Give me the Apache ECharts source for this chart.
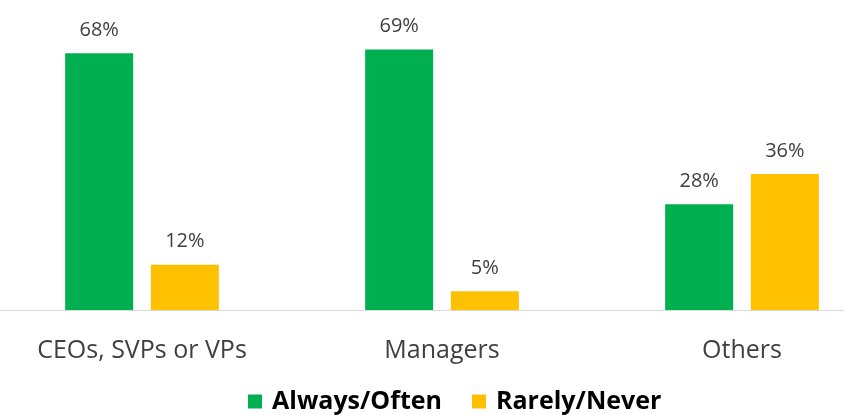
<!DOCTYPE html>
<html>
<head>
<meta charset="utf-8">
<script src="https://cdn.jsdelivr.net/npm/echarts@6/dist/echarts.min.js"></script>
<style>
  html, body { margin: 0; padding: 0; background: #fff; }
  #chart { width: 844px; height: 415px; }
</style>
</head>
<body>
<div id="chart"></div>
<script>
const categories = ['CEOs, SVPs or VPs', 'Managers', 'Others'];
const alwaysOften = [68, 69, 28];
const rarelyNever = [12, 5, 36];
const seriesNames = ['Always/Often', 'Rarely/Never'];

const fontFamily = '"Open Sans", sans-serif';
const green = '#00B050';
const gold = '#FFC000';

const chart = echarts.init(document.getElementById('chart'));

const valueLabel = {
  show: true,
  position: 'top',
  distance: 13,
  formatter: '{c}%',
  color: '#404040',
  fontSize: 20,
  fontFamily
};

chart.setOption({
  animation: false,
  grid: { left: -8, width: 900, top: 8, bottom: 105, outerBoundsMode: 'none', containLabel: false },
  legend: {
    data: seriesNames,
    left: 243,
    top: 384,
    itemWidth: 14,
    itemHeight: 14,
    itemGap: 30,
    icon: 'rect',
    textStyle: { fontSize: 25, fontWeight: 'bold', color: '#000', fontFamily, padding: [0, 0, 0, 5] }
  },
  xAxis: {
    type: 'category',
    data: categories,
    axisLine: { lineStyle: { color: '#d9d9d9', width: 1 } },
    axisTick: { show: false },
    axisLabel: { color: '#404040', fontSize: 25, margin: 28, fontFamily }
  },
  yAxis: {
    type: 'value',
    min: 0,
    max: 80,
    show: false,
    splitLine: { show: false }
  },
  series: [
    {
      name: seriesNames[0],
      type: 'bar',
      data: alwaysOften,
      barWidth: 68,
      barGap: '26%',
      itemStyle: { color: green },
      label: valueLabel
    },
    {
      name: seriesNames[1],
      type: 'bar',
      data: rarelyNever,
      barWidth: 68,
      itemStyle: { color: gold },
      label: valueLabel
    }
  ]
});
</script>
</body>
</html>
